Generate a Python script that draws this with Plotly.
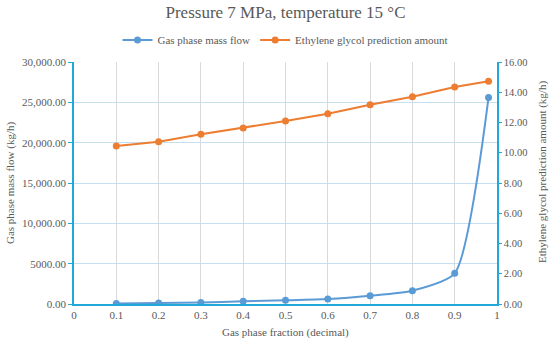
import plotly.graph_objects as go

x_vals = [0.1, 0.2, 0.3, 0.4, 0.5, 0.6, 0.7, 0.8, 0.9, 0.98]
gas_mass_flow = [50, 120, 200, 330, 460, 620, 1030, 1650, 3800, 25600]
glycol_amount = [10.45, 10.73, 11.22, 11.64, 12.1, 12.58, 13.18, 13.7, 14.35, 14.72]

left_ticks = [0, 5000, 10000, 15000, 20000, 25000, 30000]
left_tick_text = ["0.00", "5000.00", "10,000.00", "15,000.00", "20,000.00", "25,000.00", "30,000.00"]
right_ticks = [0, 2, 4, 6, 8, 10, 12, 14, 16]
x_ticks = [0, 0.1, 0.2, 0.3, 0.4, 0.5, 0.6, 0.7, 0.8, 0.9, 1]
x_tick_text = ["0", "0.1", "0.2", "0.3", "0.4", "0.5", "0.6", "0.7", "0.8", "0.9", "1"]

FONT = "Liberation Serif, Times New Roman, serif"
GRAY = "#595959"
AXIS = "#1fa8d8"

fig = go.Figure()
fig.add_trace(go.Scatter(
    x=x_vals, y=gas_mass_flow, name="Gas phase mass flow",
    mode="lines+markers", line=dict(color="#5b9bd5", width=2, shape="spline", smoothing=0.6),
    marker=dict(size=7, color="#5b9bd5"), yaxis="y"))
fig.add_trace(go.Scatter(
    x=x_vals, y=glycol_amount, name="Ethylene glycol prediction amount",
    mode="lines+markers", line=dict(color="#ed7d31", width=2),
    marker=dict(size=7, color="#ed7d31"), yaxis="y2"))

title_font = dict(family=FONT, size=11, color=GRAY)
fig.update_layout(
    width=550, height=342,
    paper_bgcolor="white", plot_bgcolor="white",
    margin=dict(l=74, r=53, t=62, b=38, autoexpand=False),
    font=dict(family=FONT, size=11, color=GRAY),
    title=dict(text="Pressure 7 MPa, temperature 15 °C", x=0.5, xanchor="center",
               xref="paper", y=1 - 12 / 342, yanchor="middle",
               font=dict(family=FONT, size=17, color=GRAY)),
    legend=dict(orientation="h", x=0.5, xanchor="center", y=(304 - 40) / 242, yanchor="middle",
                font=dict(family=FONT, size=11, color=GRAY), itemwidth=30,
                bgcolor="rgba(0,0,0,0)"),
    showlegend=True,
    xaxis=dict(range=[0, 1], tickvals=x_ticks, ticktext=x_tick_text,
               showgrid=True, gridcolor="#d9d9d9", gridwidth=1,
               showline=True, linecolor=AXIS, linewidth=1.5, zeroline=False,
               ticks="", tickfont=dict(family=FONT, size=11, color=GRAY)),
    yaxis=dict(range=[0, 30000], tickvals=left_ticks, ticktext=left_tick_text,
               showgrid=True, gridcolor="#c5dff0", gridwidth=1,
               showline=True, linecolor=AXIS, linewidth=1.5, zeroline=False,
               ticks="outside", ticklen=4, tickcolor=AXIS,
               tickfont=dict(family=FONT, size=11, color=GRAY)),
    yaxis2=dict(range=[0, 16], tickvals=right_ticks, tickformat=".2f",
                overlaying="y", side="right", showgrid=False,
                showline=True, linecolor=AXIS, linewidth=1.5, zeroline=False,
                ticks="outside", ticklen=3, tickcolor=AXIS,
                tickfont=dict(family=FONT, size=10.5, color=GRAY)),
    annotations=[
        dict(text="Gas phase fraction (decimal)", xref="paper", yref="paper",
             x=0.5, y=(304 - 332) / 242, xanchor="center", yanchor="middle",
             showarrow=False, font=title_font),
        dict(text="Gas phase mass flow (kg/h)", xref="paper", yref="paper",
             x=(10 - 74) / 423, y=0.5, xanchor="center", yanchor="middle",
             textangle=-90, showarrow=False, font=title_font),
        dict(text="Ethylene glycol prediction amount (kg/h)", xref="paper", yref="paper",
             x=(542 - 74) / 423, y=(304 - 172) / 242, xanchor="center", yanchor="middle",
             textangle=-90, showarrow=False, font=title_font),
    ],
)

fig.write_html("out.html", config={"displayModeBar": False},
               post_script="document.body.style.margin='0';")
